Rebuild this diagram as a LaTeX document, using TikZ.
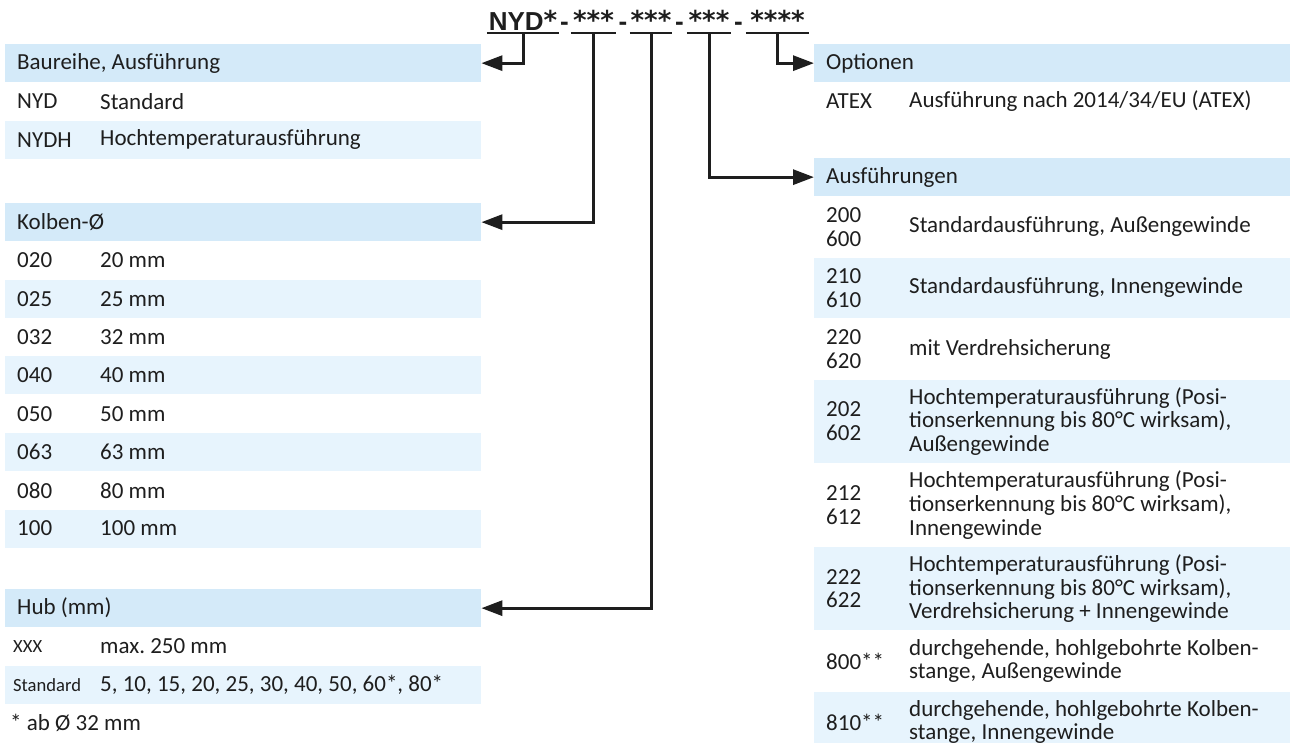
\documentclass[tikz,border=0pt]{standalone}
\usepackage{fontspec}
\setmainfont{Carlito}
\newfontfamily\codefont{Liberation Sans}
\newfontfamily\starfont{DejaVu Sans}
\usetikzlibrary{positioning, calc, arrows.meta}
\definecolor{hdrblue}{HTML}{D4EAF9}
\definecolor{rowblue}{HTML}{E7F4FD}
\definecolor{ink}{HTML}{1E1E1E}
\frenchspacing

\begin{document}
\begin{tikzpicture}[x=1pt, y=-1pt]
  \newcommand\colwidth{476pt}
  \newcommand\codewidth{83pt}
  \newcommand\descwidth{369pt}
  \newcommand\onerow{37.9pt}
  \newcommand\tworow{60.7pt}
  \newcommand\threerow{83.2pt}
  \newcommand\st{\raisebox{1pt}{\starfont\bfseries *}}
  \newcommand\smallcode{\fontsize{18.6}{20}\selectfont}
  \newcommand\entry[2]{\parbox[c]{\codewidth}{#1}\parbox[c]{\descwidth}{#2}}

  \tikzset{band/.style={anchor=north west, minimum width=\colwidth, minimum height=\onerow, inner xsep=12pt, inner ysep=0pt, text width=452pt, align=flush left, text=ink, font=\fontsize{23}{23.7}\selectfont}}
  \tikzset{hdr/.style={band, fill=hdrblue}}
  \tikzset{plainrow/.style={band}}
  \tikzset{lightrow/.style={band, fill=rowblue}}
  \tikzset{codeseg/.style={anchor=base, inner sep=0pt, text height=19pt, text depth=3pt, text=ink, font=\codefont\bfseries\fontsize{26}{26}\selectfont}}
  \tikzset{uline/.style={line width=2.3pt, draw=ink}}
  \tikzset{ptr/.style={-{Triangle[length=21pt, width=15pt]}, line width=3pt, draw=ink}}

  \useasboundingbox (0, 0) rectangle (1298, 742);
  \clip (0, 0) rectangle (1298, 742);

  % type code
  \foreach \seg/\xl/\xr [count=\i] in {NYD\st/487/559, \st\st\st/571/616, \st\st\st/630/672, \st\st\st/687/731, \st\st\st\st/746/809}{
    \node[codeseg, minimum width=\xr-\xl] at ({(\xl+\xr)/2}, 30) (seg\i) {\seg};
    \draw[uline] (seg\i.south west) -- (seg\i.south east);
  }
  \foreach \x [count=\i] in {564.5, 623, 679.5, 738.5}{
    \node[codeseg, text height=12pt, text depth=0pt] at (\x, 30) (dash\i) {-};
  }

  % left column
  \node[hdr] at (5, 44) (bau) {Baureihe, Ausführung};
  \node[plainrow, below=0pt of bau] (bau-1) {\entry{NYD}{Standard}};
  \node[lightrow, below=0pt of bau-1] (bau-2) {\entry{NYDH}{Hochtemperaturausführung}};

  \node[hdr] at (5, 203) (kol) {Kolben-Ø};
  \node[plainrow, below=0pt of kol] (kol-1) {\entry{020}{20 mm}};
  \foreach \code/\desc/\style [count=\prev from 1] in {025/25 mm/lightrow, 032/32 mm/plainrow, 040/40 mm/lightrow, 050/50 mm/plainrow, 063/63 mm/lightrow, 080/80 mm/plainrow, 100/100 mm/lightrow}{
    \pgfmathtruncatemacro\cur{\prev+1}
    \node[\style, below=0pt of kol-\prev] (kol-\cur) {\entry{\code}{\desc}};
  }

  \node[hdr] at (5, 589) (hub) {Hub (mm)};
  \node[plainrow, below=0pt of hub] (hub-1) {\entry{\smallcode\hspace*{-4pt}XXX}{max. 250 mm}};
  \node[lightrow, below=0pt of hub-1] (hub-2) {\entry{\smallcode\hspace*{-4pt}Standard}{5, 10, 15, 20, 25, 30, 40, 50, 60*, 80*}};
  \node[anchor=west, inner sep=0pt, text=ink, font=\fontsize{23}{23.7}\selectfont] at (10, 723) (foot) {* ab Ø 32 mm};

  % right column
  \node[hdr] at (814, 44) (opt) {Optionen};
  \node[plainrow, below=0pt of opt] (opt-1) {\entry{ATEX}{Ausführung nach 2014/34/EU (ATEX)}};

  \node[hdr] at (814, 158) (aus) {Ausführungen};
  \node[plainrow, minimum height=\tworow, below=0pt of aus] (aus-1) {\entry{200\\600}{Standardausführung, Außengewinde}};
  \foreach \code/\desc/\style/\h [count=\prev from 1] in {
    {210\\610}/{Standardausführung, Innengewinde}/lightrow/\tworow,
    {220\\620}/{mit Verdrehsicherung}/plainrow/\tworow,
    {202\\602}/{Hochtemperaturausführung (Posi-\\tionserkennung bis 80°C wirksam),\\Außengewinde}/lightrow/\threerow,
    {212\\612}/{Hochtemperaturausführung (Posi-\\tionserkennung bis 80°C wirksam),\\Innengewinde}/plainrow/\threerow,
    {222\\622}/{Hochtemperaturausführung (Posi-\\tionserkennung bis 80°C wirksam),\\Verdrehsicherung + Innengewinde}/lightrow/\threerow,
    {800**}/{durchgehende, hohlgebohrte Kolben-\\stange, Außengewinde}/plainrow/\tworow,
    {810**}/{durchgehende, hohlgebohrte Kolben-\\stange, Innengewinde}/lightrow/\tworow}{
    \pgfmathtruncatemacro\cur{\prev+1}
    \node[\style, minimum height=\h, below=0pt of aus-\prev] (aus-\cur) {\entry{\code}{\desc}};
  }

  % pointers
  \draw[ptr] (seg1.south) |- (bau.east);
  \draw[ptr] (seg2.south) |- (kol.east);
  \draw[ptr] (seg3.south) |- (hub.east);
  \draw[ptr] (seg4.south) |- (aus.west);
  \draw[ptr] (seg5.south) |- (opt.west);
\end{tikzpicture}
\end{document}
